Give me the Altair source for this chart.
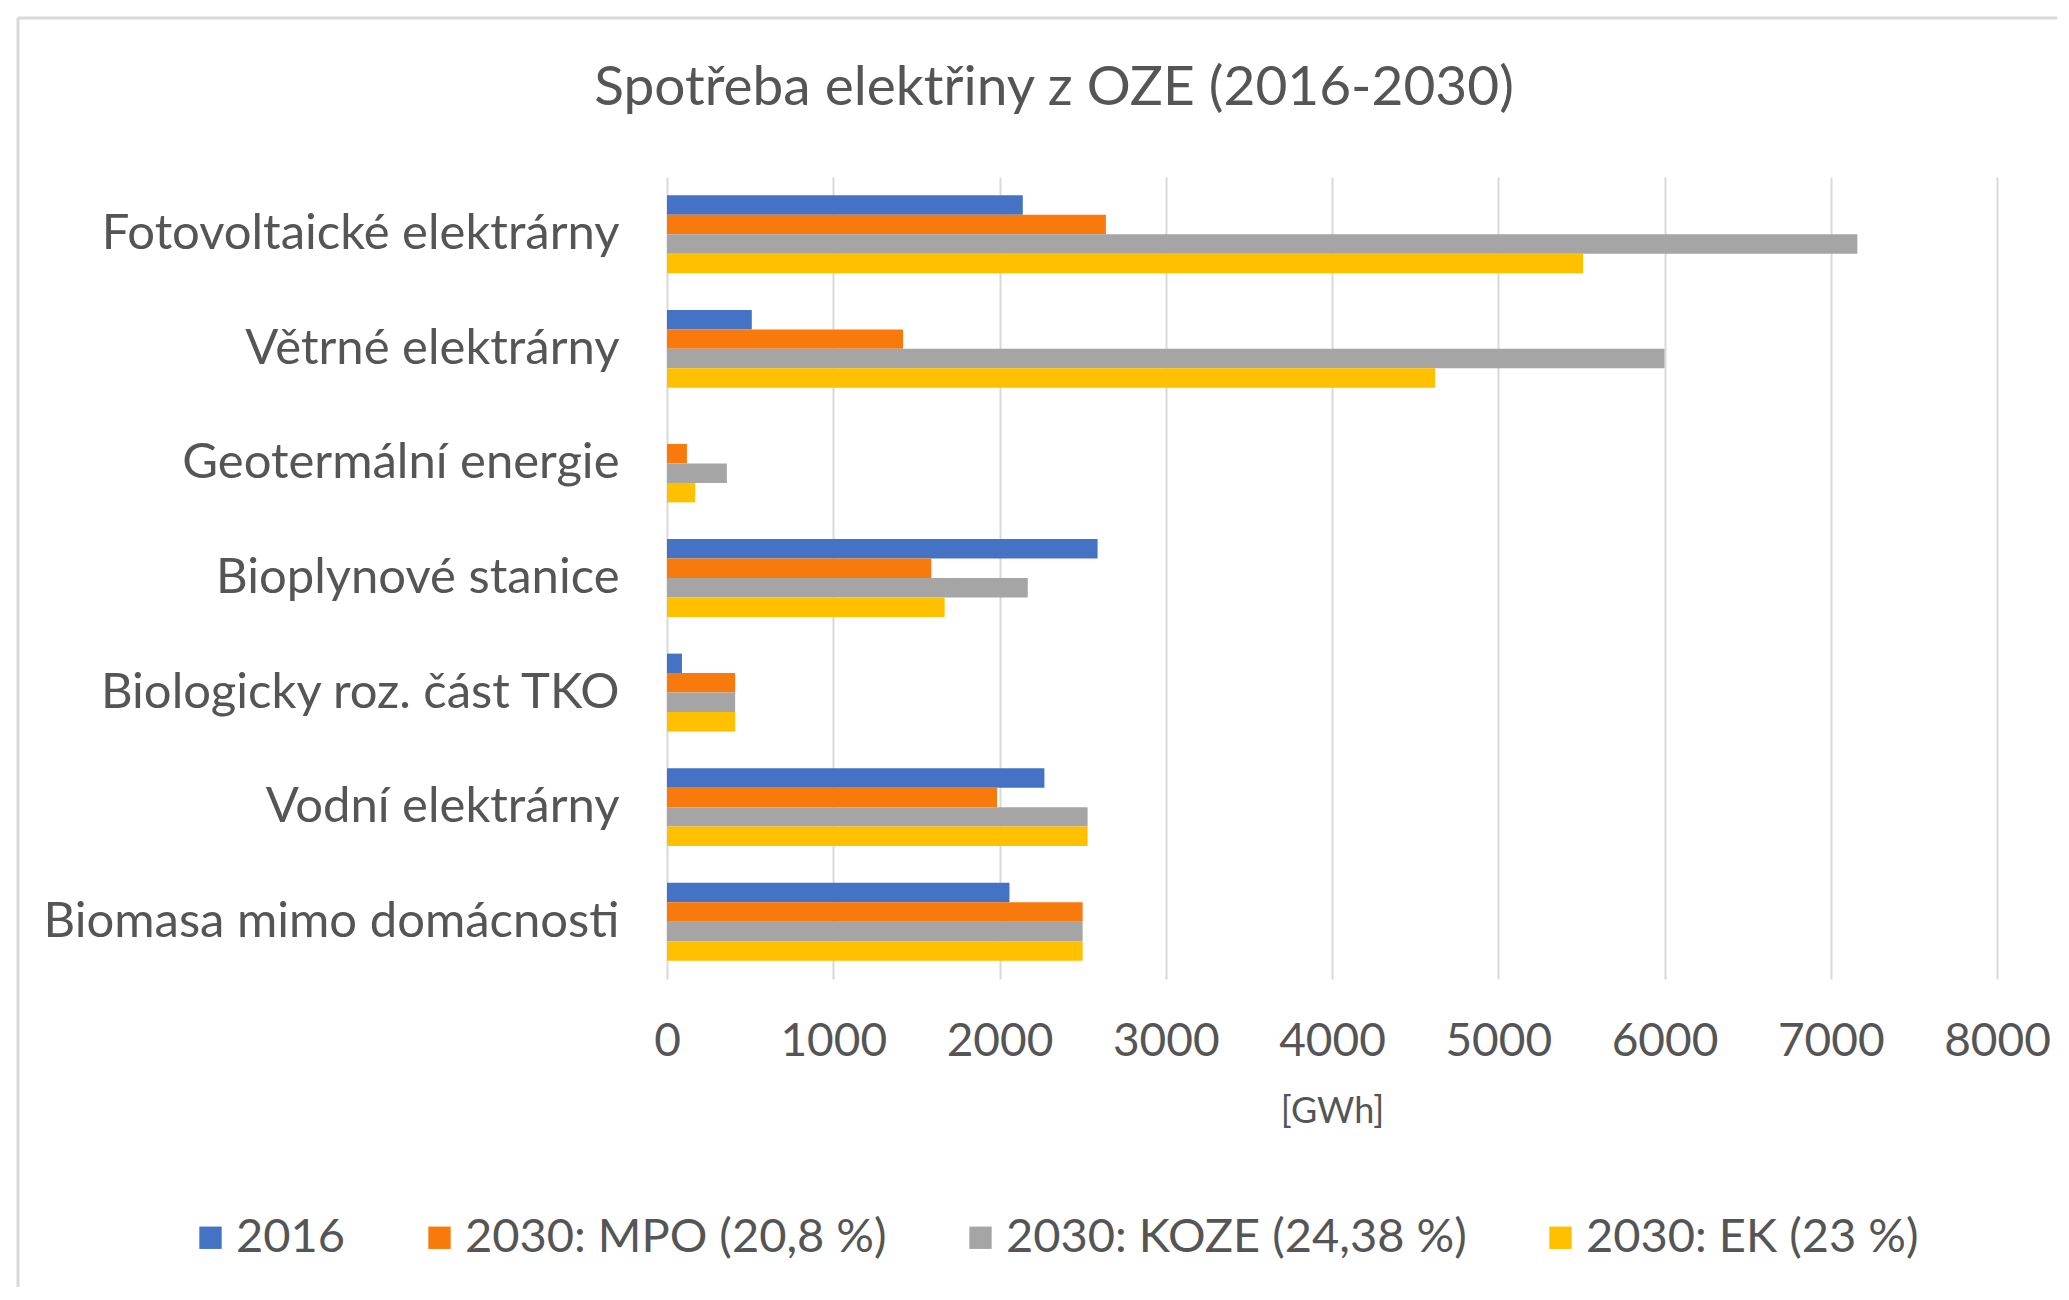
import altair as alt
import pandas as pd

categories = [
    "Fotovoltaické elektrárny",
    "Větrné elektrárny",
    "Geotermální energie",
    "Bioplynové stanice",
    "Biologicky roz. část TKO",
    "Vodní elektrárny",
    "Biomasa mimo domácnosti",
]
series = ["2016", "2030: MPO (20,8 %)", "2030: KOZE (24,38 %)", "2030: EK (23 %)"]
v2016 = [2140, 510, 0, 2590, 90, 2270, 2060]
v_mpo = [2640, 1420, 120, 1590, 410, 1985, 2500]
v_koze = [7160, 6000, 360, 2170, 410, 2530, 2500]
v_ek = [5510, 4620, 170, 1670, 410, 2530, 2500]
colors = ["#4472C4", "#F97A0C", "#A5A5A5", "#FFC000"]
x_ticks = [0, 1000, 2000, 3000, 4000, 5000, 6000, 7000, 8000]

rows = []
for i, c in enumerate(categories):
    for s, vals in zip(series, [v2016, v_mpo, v_koze, v_ek]):
        rows.append({"kategorie": c, "rada": s, "hodnota": vals[i]})
df = pd.DataFrame(rows)

TXT = "#555555"

bars = alt.Chart(df).mark_bar().encode(
    y=alt.Y(
        "kategorie:N",
        sort=categories,
        scale=alt.Scale(paddingInner=0.32, paddingOuter=0.16),
        axis=alt.Axis(title=None, labelFontSize=49, labelPadding=48, ticks=False,
                      domain=False, labelLimit=1000, grid=False, labelColor=TXT),
    ),
    x=alt.X(
        "hodnota:Q",
        scale=alt.Scale(domain=[0, 8000], nice=False),
        axis=alt.Axis(title="[GWh]", values=x_ticks, format="d", labelFontSize=46, labelPadding=40,
                      ticks=False, domain=False, grid=True, gridColor="#d9d9d9", gridWidth=2,
                      labelFlush=False, titleFontSize=36, titleFontWeight="normal",
                      titlePadding=30, titleColor=TXT, labelColor=TXT),
    ),
    yOffset=alt.YOffset("rada:N", sort=series, scale=alt.Scale(paddingInner=0, paddingOuter=0)),
    color=alt.Color(
        "rada:N",
        sort=series,
        scale=alt.Scale(domain=series, range=colors),
        legend=alt.Legend(orient="none", legendX=-480, legendY=1037, direction="horizontal",
                          title=None, symbolType="square", symbolSize=500, symbolStrokeWidth=0,
                          labelFontSize=47, labelColor=TXT, columnPadding=70, labelOffset=2,
                          labelLimit=1000, padding=0),
    ),
)

frame_df = pd.DataFrame({"k": [0]})
top_rule = alt.Chart(frame_df).mark_rule(color="#d9d9d9", strokeWidth=3).encode(
    x=alt.value(-649), x2=alt.value(1390), y=alt.value(-159)
)
left_rule = alt.Chart(frame_df).mark_rule(color="#d9d9d9", strokeWidth=3).encode(
    x=alt.value(-649), y=alt.value(-159), y2=alt.value(1110)
)

chart = alt.layer(top_rule, left_rule, bars).properties(
    width=1330,
    height=802,
    padding={"left": 8, "top": 8, "right": 0, "bottom": 0},
    title=alt.TitleParams("Spotřeba elektřiny z OZE (2016-2030)", fontSize=55, fontWeight="normal",
                          color=TXT, anchor="middle", frame="group", dx=-278, offset=-100),
).configure(font="Lato").configure_view(stroke=None)

chart.save("out.html", embed_options={"renderer": "svg", "actions": False})
